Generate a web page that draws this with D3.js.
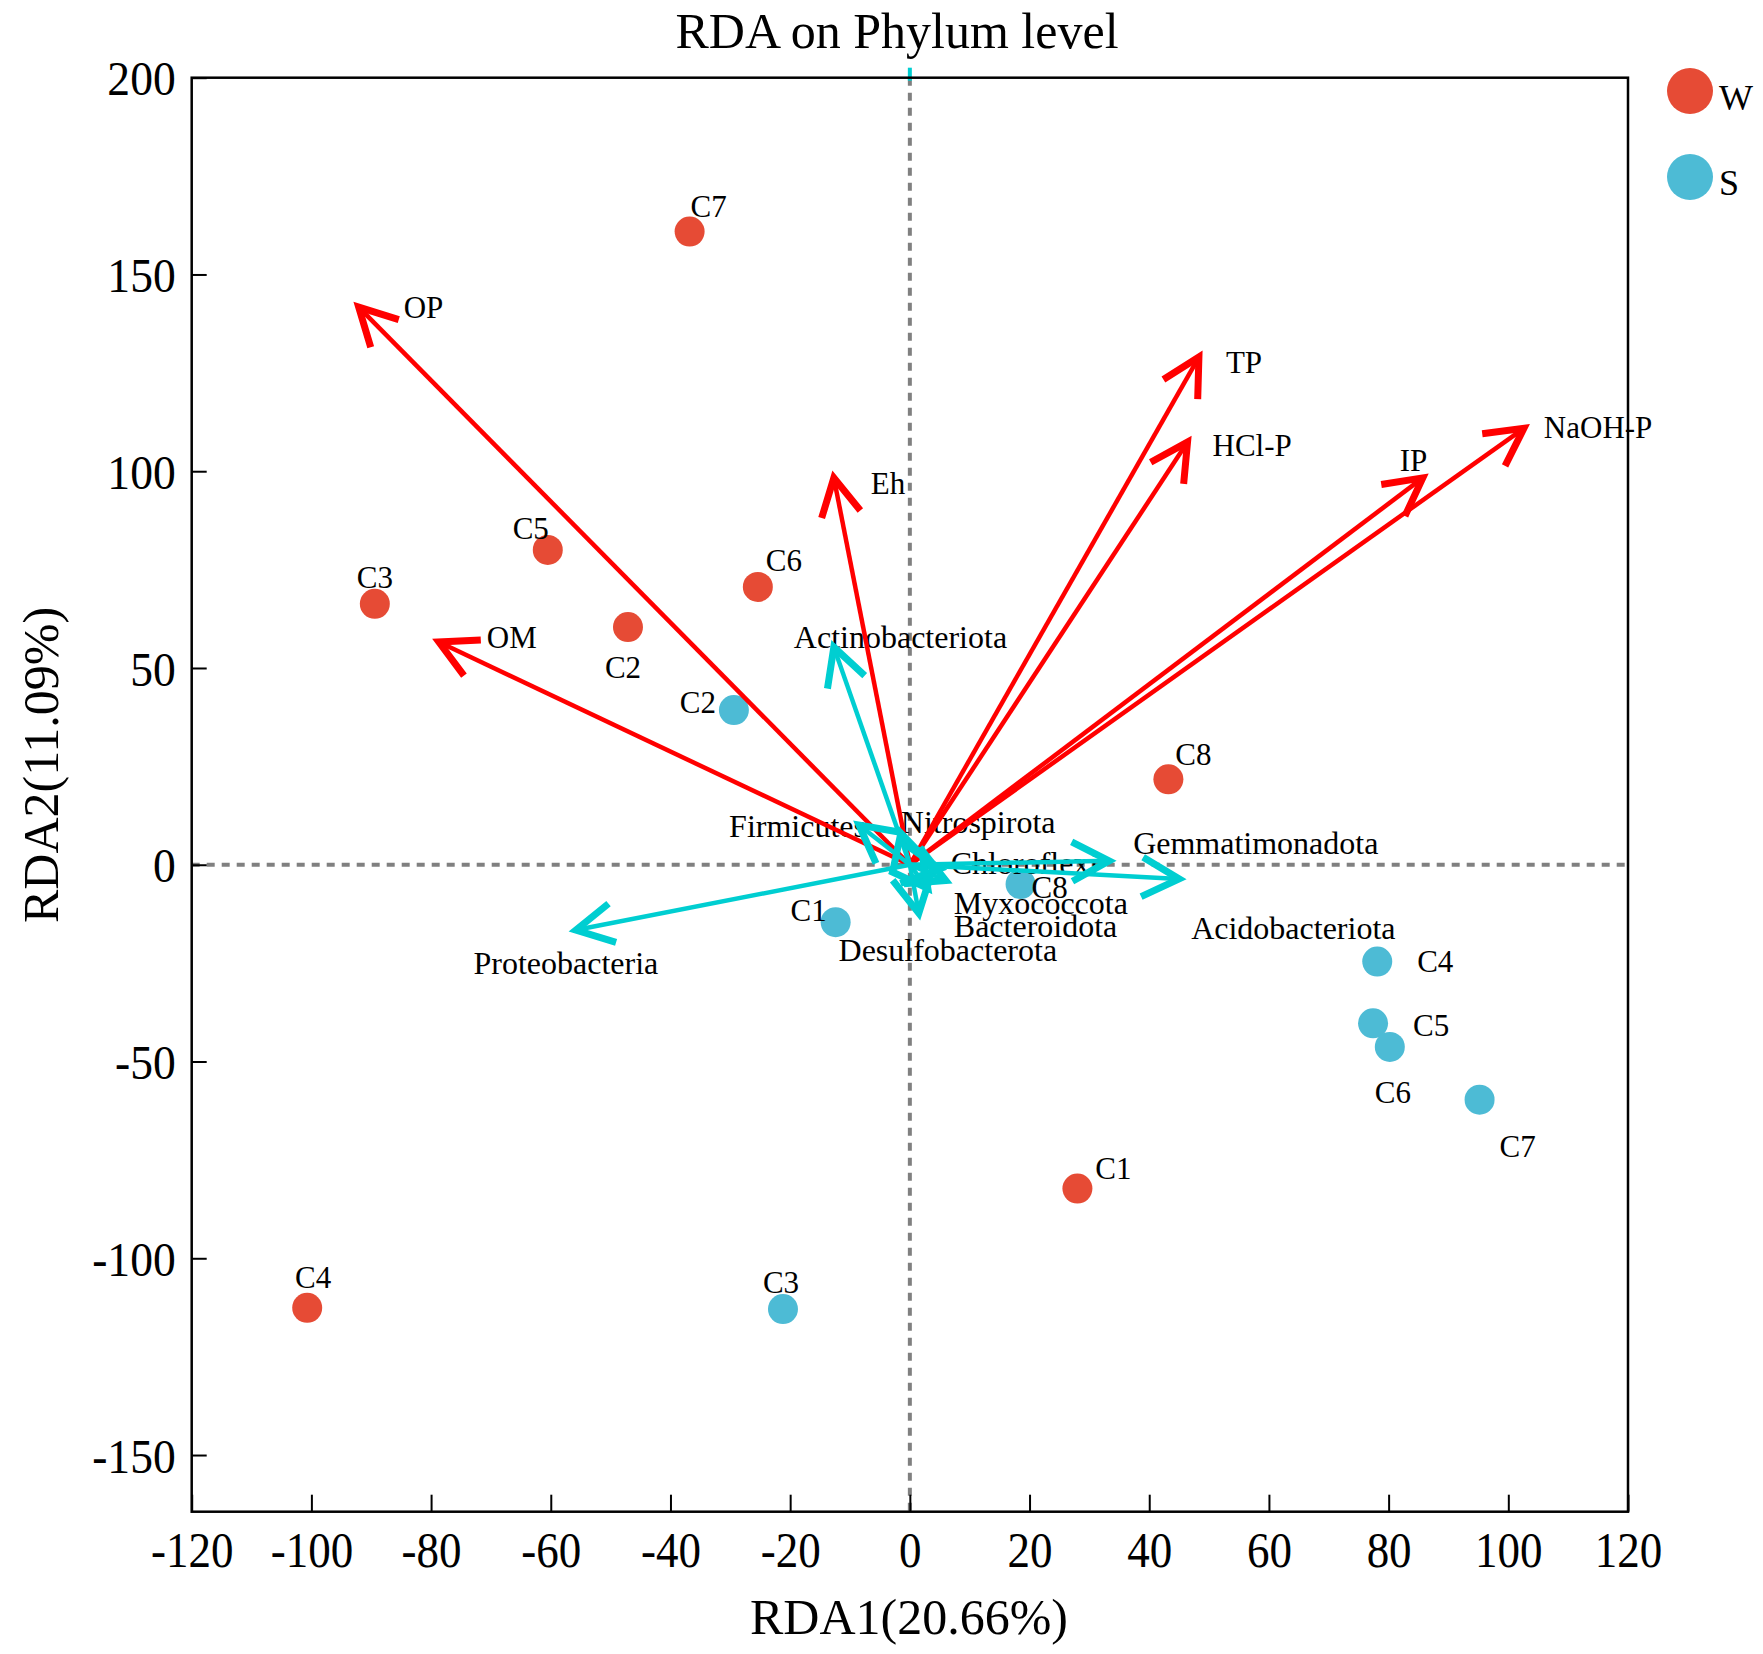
<!DOCTYPE html>
<html>
<head>
<meta charset="utf-8">
<script src="https://cdn.jsdelivr.net/npm/d3@7"></script>
<style>
  body { margin: 0; background: #fff; }
  text { font-family: "Liberation Serif", "Times New Roman", serif; fill: #000; }
</style>
</head>
<body>
<svg id="chart"></svg>
<script>
// RDA biplot: samples (W / S), environmental factors and phyla

const width = 1763;
const height = 1654;

// sample scores
const sampleNames = ["C1", "C2", "C3", "C4", "C5", "C6", "C7", "C8"];
const wRDA1 = [28.0, -47.1, -89.4, -100.7, -60.5, -25.4, -36.8, 43.2];
const wRDA2 = [-82.3, 60.4, 66.3, -112.6, 80.0, 70.6, 160.9, 21.7];
const sRDA1 = [-12.4, -29.4, -21.2, 78.1, 77.4, 80.2, 95.2, 18.5];
const sRDA2 = [-14.6, 39.3, -112.9, -24.6, -40.3, -46.3, -59.7, -4.9];

// environmental factor arrows
const envNames = ["OP", "OM", "Eh", "TP", "HCl-P", "IP", "NaOH-P"];
const envRDA1 = [-92.1, -78.7, -12.7, 48.3, 46.4, 85.7, 102.6];
const envRDA2 = [141.7, 56.6, 98.3, 129.0, 107.4, 98.3, 110.9];

// phylum arrows
const phylumNames = ["Actinobacteriota", "Proteobacteria", "Firmicutes", "Nitrospirota",
  "Chloroflexi", "Gemmatimonadota", "Acidobacteriota", "Myxococcota", "Bacteroidota",
  "Desulfobacterota"];
const phyRDA1 = [-12.7, -55.8, -8.5, -1.5, 5.0, 33.3, 45.0, 6.0, 3.0, 1.5];
const phyRDA2 = [55.3, -16.6, 10.1, 8.0, -1.0, 1.0, -3.6, -4.0, -6.0, -12.3];

// axis ticks
const xTicks = [-120, -100, -80, -60, -40, -20, 0, 20, 40, 60, 80, 100, 120];
const yTicks = [-150, -100, -50, 0, 50, 100, 150, 200];

const groups = ["W", "S"];
const groupColors = { W: "#E64B35", S: "#4DBBD5" };

// label nudges (pixels), like a repel step would give
const wLabelNudge = [[36, -20], [-5, 40], [0, -27], [6, -31], [-17, -22], [26, -27], [19, -25], [25, -25]];
const sLabelNudge = [[-27, -12], [-36, -8], [-2, -27], [58, 0], [58, 2], [3, 45], [38, 46], [29, 3]];
const envLabelNudge = [[45, 0], [48, -5], [37, 5], [27, 5], [25, 3], [-23, -18], [20, -1]];
const phyLabelNudge = [
  [-40, -10, "start"], [-10, 33, "middle"], [7, 1, "end"], [0, -11, "start"],
  [11, -6, "start"], [24, -18, "start"], [12, 49, "start"], [8, 22, "start"],
  [26, 37, "start"], [29, 37, "middle"]
];

const plot = { left: 191.7, right: 1628, top: 77.7, bottom: 1511.7 };

const svg = d3.select("#chart").attr("width", width).attr("height", height);

const x = d3.scaleLinear().domain([-120, 120]).range([plot.left, plot.right]);
const y = d3.scaleLinear().domain([-164.4, 200]).range([plot.bottom, plot.top]);

// title
svg.append("text")
  .attr("x", 897)
  .attr("y", 48)
  .attr("text-anchor", "middle")
  .attr("font-size", "50px")
  .text("RDA on Phylum level");

// zero lines
svg.append("line")
  .attr("x1", plot.left).attr("x2", plot.right)
  .attr("y1", y(0)).attr("y2", y(0))
  .attr("stroke", "#808080").attr("stroke-width", 4)
  .attr("stroke-dasharray", "8,7");
svg.append("line")
  .attr("x1", x(0)).attr("x2", x(0))
  .attr("y1", plot.top).attr("y2", plot.bottom)
  .attr("stroke", "#808080").attr("stroke-width", 4)
  .attr("stroke-dasharray", "8,7");
// small cyan stub at the top of the vertical zero line
svg.append("line")
  .attr("x1", x(0)).attr("x2", x(0))
  .attr("y1", plot.top - 10).attr("y2", plot.top + 3)
  .attr("stroke", "#00CED1").attr("stroke-width", 4);

// axes (tick digits are a bit narrow and tall in the original)
const xAxis = svg.append("g")
  .attr("transform", `translate(0,${plot.bottom})`)
  .call(d3.axisBottom(x).tickValues(xTicks).tickSize(-17).tickFormat((d) => String(d)));
xAxis.select(".domain").remove();
xAxis.selectAll(".tick line").attr("stroke", "#000").attr("stroke-width", 2);
xAxis.selectAll(".tick text")
  .attr("x", 0).attr("y", 55).attr("dy", null)
  .attr("transform", "scale(0.9,1)")
  .attr("font-size", "50px")
  .attr("font-family", "Liberation Serif, Times New Roman, serif");

const yAxis = svg.append("g")
  .attr("transform", `translate(${plot.left},0)`)
  .call(d3.axisLeft(y).tickValues(yTicks).tickSize(-15).tickFormat((d) => String(d)));
yAxis.select(".domain").remove();
yAxis.selectAll(".tick line").attr("stroke", "#000").attr("stroke-width", 2);
yAxis.selectAll(".tick text")
  .attr("x", -16 / 0.93).attr("dy", "0.35em")
  .attr("transform", "scale(0.93,1)")
  .attr("font-size", "49px")
  .attr("font-family", "Liberation Serif, Times New Roman, serif");

// frame
svg.append("rect")
  .attr("x", plot.left).attr("y", plot.top)
  .attr("width", plot.right - plot.left)
  .attr("height", plot.bottom - plot.top)
  .attr("fill", "none")
  .attr("stroke", "#000")
  .attr("stroke-width", 2.5);

// axis titles
svg.append("text")
  .attr("x", 909)
  .attr("y", 1634)
  .attr("text-anchor", "middle")
  .attr("font-size", "50px")
  .text("RDA1(20.66%)");
svg.append("text")
  .attr("transform", "translate(58,765) rotate(-90)")
  .attr("text-anchor", "middle")
  .attr("font-size", "50px")
  .text("RDA2(11.09%)");

// sample points
const samples = [];
sampleNames.forEach((name, i) => {
  samples.push({ name, group: "W", x: wRDA1[i], y: wRDA2[i], nudge: wLabelNudge[i] });
});
sampleNames.forEach((name, i) => {
  samples.push({ name, group: "S", x: sRDA1[i], y: sRDA2[i], nudge: sLabelNudge[i] });
});

svg.append("g")
  .selectAll("circle")
  .data(samples)
  .enter()
  .append("circle")
  .attr("cx", (d) => x(d.x))
  .attr("cy", (d) => y(d.y))
  .attr("r", 15)
  .attr("fill", (d) => groupColors[d.group]);

svg.append("g")
  .selectAll("text")
  .data(samples)
  .enter()
  .append("text")
  .attr("x", (d) => x(d.x) + d.nudge[0])
  .attr("y", (d) => y(d.y) + d.nudge[1])
  .attr("dy", "0.35em")
  .attr("text-anchor", "middle")
  .attr("font-size", "31px")
  .text((d) => d.name);

// arrows
const envArrows = envNames.map((name, i) => ({
  name, x: envRDA1[i], y: envRDA2[i], nudge: envLabelNudge[i]
}));
const phyArrows = phylumNames.map((name, i) => ({
  name, x: phyRDA1[i], y: phyRDA2[i], nudge: phyLabelNudge[i]
}));

svg.append("g")
  .selectAll("text")
  .data(envArrows)
  .enter()
  .append("text")
  .attr("x", (d) => x(d.x) + d.nudge[0])
  .attr("y", (d) => y(d.y) + d.nudge[1])
  .attr("dy", "0.35em")
  .attr("font-size", "31px")
  .text((d) => d.name);

svg.append("g")
  .selectAll("text")
  .data(phyArrows)
  .enter()
  .append("text")
  .attr("x", (d) => x(d.x) + d.nudge[0])
  .attr("y", (d) => y(d.y) + d.nudge[1])
  .attr("dy", "0.35em")
  .attr("text-anchor", (d) => d.nudge[2])
  .attr("font-size", "32px")
  .text((d) => d.name);

// open V arrowhead at the tip
function headPath(d) {
  const x0 = x(0), y0 = y(0);
  const tx = x(d.x), ty = y(d.y);
  const len = Math.hypot(x0 - tx, y0 - ty);
  const ux = (x0 - tx) / len, uy = (y0 - ty) / len;
  const a = (28 * Math.PI) / 180;
  const arm = 42;
  const p1 = [tx + arm * (ux * Math.cos(a) - uy * Math.sin(a)), ty + arm * (ux * Math.sin(a) + uy * Math.cos(a))];
  const p2 = [tx + arm * (ux * Math.cos(-a) - uy * Math.sin(-a)), ty + arm * (ux * Math.sin(-a) + uy * Math.cos(-a))];
  return `M${p1[0]},${p1[1]}L${tx},${ty}L${p2[0]},${p2[1]}`;
}

function drawArrows(data, color) {
  const g = svg.append("g");
  g.selectAll("line")
    .data(data)
    .enter()
    .append("line")
    .attr("x1", x(0))
    .attr("y1", y(0))
    .attr("x2", (d) => x(d.x))
    .attr("y2", (d) => y(d.y))
    .attr("stroke", color)
    .attr("stroke-width", 4.5);
  g.selectAll("path")
    .data(data)
    .enter()
    .append("path")
    .attr("d", headPath)
    .attr("fill", "none")
    .attr("stroke", color)
    .attr("stroke-width", 7)
    .attr("stroke-linejoin", "miter");
}

drawArrows(envArrows, "#FF0000");
drawArrows(phyArrows, "#00CED1");

// legend
const legend = svg.append("g");
groups.forEach((grp, i) => {
  legend.append("circle")
    .attr("cx", 1690)
    .attr("cy", 91 + i * 86)
    .attr("r", 23)
    .attr("fill", groupColors[grp]);
  legend.append("text")
    .attr("x", 1719)
    .attr("y", 110 + i * 85)
    .attr("font-size", "36px")
    .text(grp);
});
</script>
</body>
</html>
